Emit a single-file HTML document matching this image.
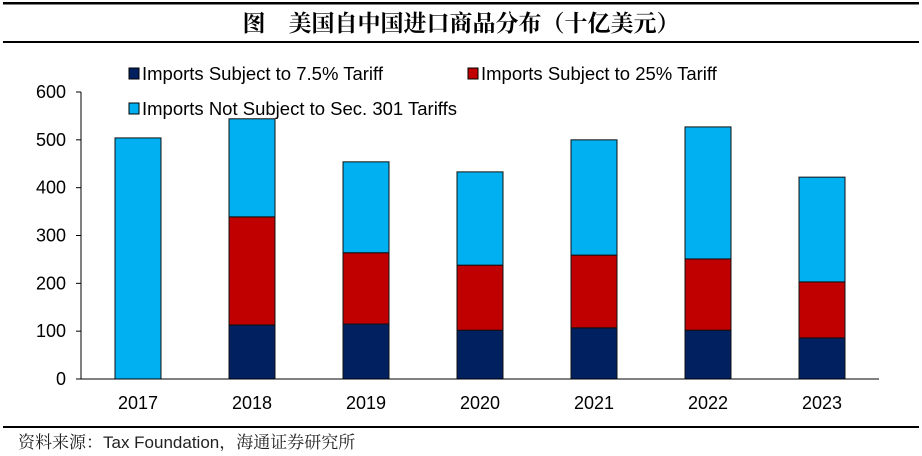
<!DOCTYPE html>
<html><head><meta charset="utf-8"><style>
body{margin:0;background:#fff;width:922px;height:451px;overflow:hidden;font-family:"Liberation Sans","Noto Sans CJK SC",sans-serif}
</style></head><body>
<svg id="c" width="922" height="451" xmlns="http://www.w3.org/2000/svg">
<rect x="3" y="2" width="916" height="2.5" fill="#000"/>
<rect x="3" y="41" width="916" height="2" fill="#000"/>
<rect x="3" y="426" width="916" height="2" fill="#000"/>
<text x="461" y="31" text-anchor="middle" font-size="23" font-weight="bold" font-family="'Noto Serif CJK SC','Noto Sans CJK SC',serif">图　美国自中国进口商品分布（十亿美元）</text>
<text x="18" y="448" font-size="17" font-family="'Liberation Sans','Noto Serif CJK SC',serif" fill="#222">资料来源：Tax Foundation，海通证券研究所</text>
<g id="legend">
<rect x="129" y="68" width="10" height="11" fill="#002060" stroke="#000"/>
<text x="142" y="80" font-size="18.5">Imports Subject to 7.5% Tariff</text>
<rect x="468" y="68" width="10" height="11" fill="#C00000" stroke="#000"/>
<text x="481" y="80" font-size="18.5">Imports Subject to 25% Tariff</text>
<rect x="129" y="103" width="10" height="11" fill="#00B0F0" stroke="#000"/>
<text x="142" y="115" font-size="18.5">Imports Not Subject to Sec. 301 Tariffs</text>
</g>
</svg>
<script>
const categories=["2017","2018","2019","2020","2021","2022","2023"];
const tariff75=[0,113,115,102,107,102,86];
const tariff25=[0,226,149,136,152,149,117];
const notSubject=[504,205,190,195,241,276,219];
const yTicks=[0,100,200,300,400,500,600];
const svg=document.getElementById('c');
const NS="http://www.w3.org/2000/svg";
const x0=81,x1=879,y0=379,yTop=92,yMax=600;
const y=v=>y0-(v/yMax)*(y0-yTop);
const step=(x1-x0)/categories.length;
const xc=i=>x0+step*(i+0.5);
function mk(t,a){const e=document.createElementNS(NS,t);for(const k in a)e.setAttribute(k,a[k]);svg.appendChild(e);return e;}
yTicks.forEach(v=>{
 const l=mk('line',{x1:76,x2:x0,y1:y(v),y2:y(v),stroke:'#000'});
 
 
 const t=mk('text',{x:66,y:y(v)+6,'text-anchor':'end','font-size':18});
 t.textContent=v;
 
 
});
const series=[[tariff75,'#002060','7-5'],[tariff25,'#C00000','25'],[notSubject,'#00B0F0','not']];
categories.forEach((c,i)=>{
 let base=0;
 series.forEach(([arr,col,nm])=>{
  const v=arr[i];
  if(v>0){
   const r=mk('rect',{x:xc(i)-23,y:y(base+v),width:46,height:y(base)-y(base+v),fill:col,stroke:'#111','stroke-width':1});
   
   
  }
  base+=v;
 });
 const t=mk('text',{x:xc(i),y:409,'text-anchor':'middle','font-size':18});
 t.textContent=c;
 
 
});
const ya=mk('line',{x1:x0,x2:x0,y1:yTop,y2:y0,stroke:'#000'});


const xa=mk('line',{x1:76,x2:x1,y1:y0,y2:y0,stroke:'#000'});


</script>
</body></html>
